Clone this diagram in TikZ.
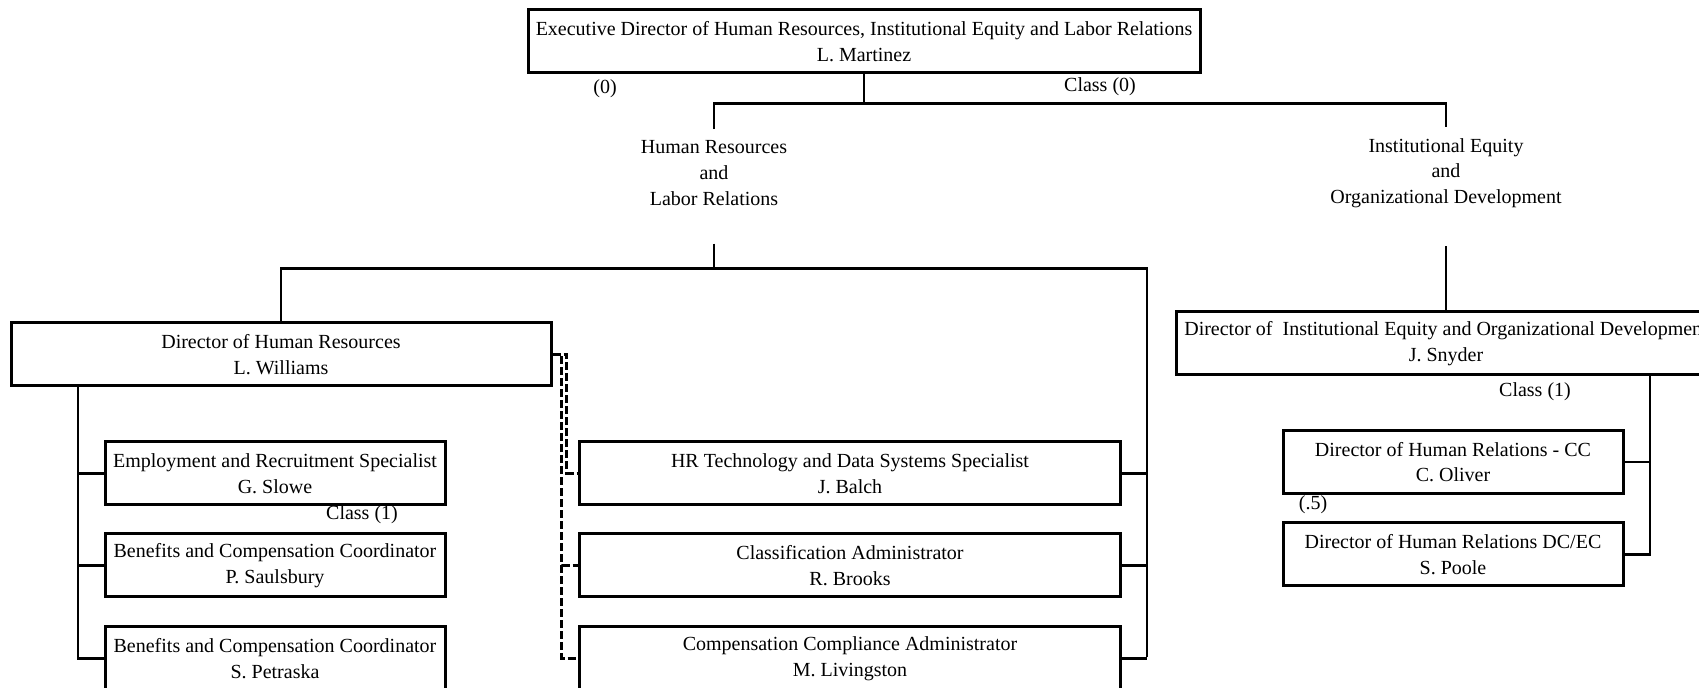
\documentclass[tikz,border=0pt]{standalone}
\usepackage{fontspec}
\setmainfont{Liberation Serif}
\begin{document}
\begin{tikzpicture}[x=0.5pt, y=-0.5pt, font=\fontsize{10}{12.85}\selectfont, line join=miter,
    post/.style={draw, line width=1.5pt, minimum height=31.5pt, inner sep=0pt, align=center},
    unit/.style={align=center, inner sep=5.5pt},
    link/.style={line width=1.3pt},
    dotlink/.style={line width=1.2pt, dash pattern=on 4pt off 1.5pt}]
    \useasboundingbox (0,0) rectangle (1699,688);
    % top
    \node[post, minimum width=336pt] (exec) at (864,41.5) {Executive Director of Human Resources, Institutional Equity and Labor Relations\\L. Martinez};
    \node (zero) at (605,89) {(0)};
    \node (cls0) at (1100,87) {Class (0)};
    \node[unit] (hrlr) at (714,173) {Human Resources\\and\\Labor Relations};
    \node[unit] (iedo) at (1446,173) {Institutional Equity\\and\\Organizational Development};
    \draw[link] (exec.south) -- ++(0,29) coordinate (topbus);
    \draw[link] (hrlr.north) |- (topbus) -| (iedo.north);
    % human resources side
    \node[post, minimum width=270pt] (dirhr) at (281,354.5) {Director of Human Resources\\L. Williams};
    \node[post, minimum width=170pt] (emp) at (275,473.5) {Employment and Recruitment Specialist\\G. Slowe};
    \node[post, minimum width=170pt] (ben1) at (275,565.5) {Benefits and Compensation Coordinator\\P. Saulsbury};
    \node[post, minimum width=170pt] (ben2) at (275,658.5) {Benefits and Compensation Coordinator\\S. Petraska};
    \node (cls1) at (362,515) {Class (1)};
    \node[post, minimum width=270.5pt] (hrtech) at (850,473.5) {HR Technology and Data Systems Specialist\\J. Balch};
    \node[post, minimum width=270.5pt] (classadm) at (850,565.5) {Classification Administrator\\R. Brooks};
    \node[post, minimum width=270.5pt] (compadm) at (850,658.5) {Compensation Compliance Administrator\\M. Livingston};
    \coordinate (hrr) at (1147,657);
    \coordinate (ltop) at (78,386);
    \draw[link] (hrlr.south) ++(0,27) -- ++(0,25) coordinate (hrbus);
    \draw[link] (dirhr.north) |- (hrbus) -| (hrr);
    \draw[link] (hrtech.east) -- (hrtech.east -| hrr);
    \draw[link] (classadm.east) -- (classadm.east -| hrr);
    \draw[link] (compadm.east) -- (compadm.east -| hrr);
    \draw[link] (ltop) |- (ben2.west);
    \draw[link] (emp.west) -- (emp.west -| ltop);
    \draw[link] (ben1.west) -- (ben1.west -| ltop);
    \draw[dotlink] (dirhr.east) -- ++(14,0) |- (hrtech.west);
    \draw[dotlink] (dirhr.east) -- ++(9,0) |- (classadm.west);
    \draw[dotlink] (dirhr.east) -- ++(9,0) |- (compadm.west);
    % institutional equity side
    \node[post, minimum width=270pt] (dirie) at (1446,343.5) {Director of\ \ Institutional Equity and Organizational Development\\J. Snyder};
    \node (cls1b) at (1535,392) {Class (1)};
    \node[post, minimum width=170pt] (oliver) at (1453,462) {Director of Human Relations - CC\\C. Oliver};
    \node[post, minimum width=170pt] (poole) at (1453,554.5) {Director of Human Relations DC/EC\\S. Poole};
    \node (half) at (1313,505) {(.5)};
    \coordinate (ietr) at (1650,375);
    \draw[link] (iedo.south) ++(0,27) -- (dirie.north);
    \draw[link] (ietr) |- (poole.east);
    \draw[link] (oliver.east) -- (oliver.east -| ietr);
\end{tikzpicture}
\end{document}
